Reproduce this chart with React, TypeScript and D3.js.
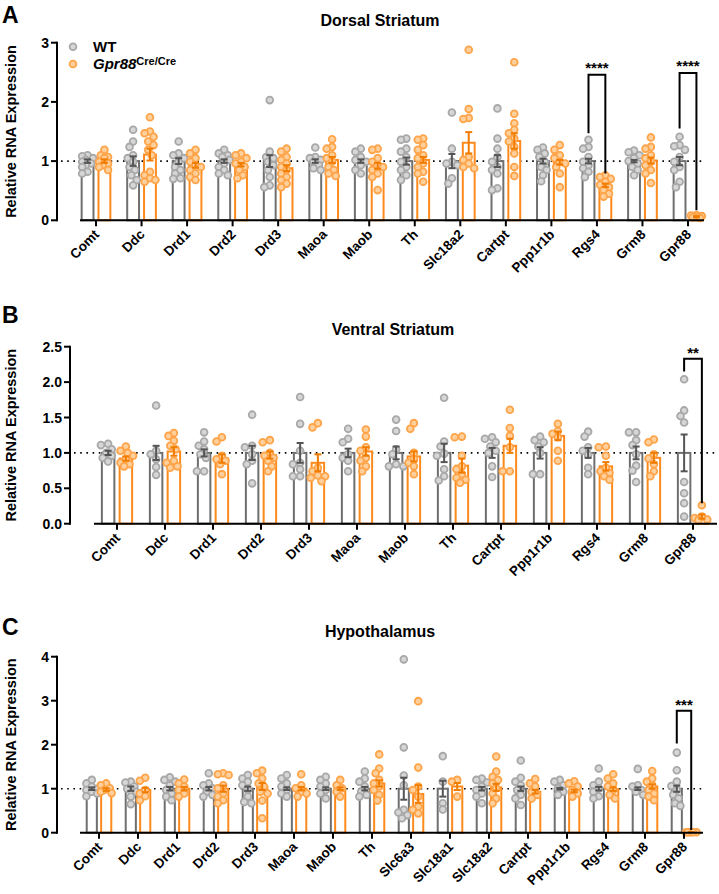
import React from "react";
import * as d3 from "d3";

const FONT = "Arial, 'Liberation Sans', Helvetica, sans-serif";

// ---------------- Panel A: Dorsal Striatum ----------------
const genesA = ["Comt", "Ddc", "Drd1", "Drd2", "Drd3", "Maoa", "Maob", "Th", "Slc18a2", "Cartpt", "Ppp1r1b", "Rgs4", "Grm8", "Gpr88"];
const wtMeanA = [1, 1, 1, 1, 1, 1, 1, 1, 1, 1, 1, 1, 1, 1];
const wtSemA = [0.03, 0.08, 0.05, 0.03, 0.1, 0.03, 0.03, 0.06, 0.12, 0.1, 0.04, 0.04, 0.02, 0.07];
const koMeanA = [1.0, 1.11, 0.93, 0.94, 0.88, 1.02, 0.92, 1.02, 1.31, 1.34, 0.98, 0.59, 1.01, 0.06];
const koSemA = [0.03, 0.1, 0.04, 0.03, 0.05, 0.05, 0.05, 0.05, 0.18, 0.13, 0.04, 0.03, 0.05, 0.01];
const wtPtsA = [
  [1.10, 1.08, 1.05, 1.02, 0.99, 0.96, 0.93, 0.90, 0.82, 0.79],
  [1.53, 1.33, 1.24, 1.10, 1.05, 0.99, 0.90, 0.85, 0.76, 0.68, 0.59],
  [1.33, 1.13, 1.10, 1.05, 0.99, 0.90, 0.85, 0.79, 0.71, 0.70],
  [1.19, 1.13, 1.10, 1.07, 1.02, 0.96, 0.90, 0.85, 0.79, 0.76],
  [2.03, 1.16, 1.07, 1.05, 0.99, 0.93, 0.85, 0.73, 0.59, 0.56],
  [1.23, 1.07, 1.05, 1.02, 0.99, 0.93, 0.88, 0.85],
  [1.21, 1.16, 1.07, 1.02, 0.99, 0.93, 0.85, 0.79],
  [1.38, 1.36, 1.21, 1.16, 1.07, 0.99, 0.90, 0.85, 0.76, 0.68],
  [1.82, 1.21, 0.99, 0.96, 0.93, 0.71, 0.62],
  [1.89, 1.38, 1.21, 1.07, 0.99, 0.90, 0.85, 0.79, 0.54, 0.51],
  [1.23, 1.19, 1.13, 1.07, 0.99, 0.90, 0.85, 0.76, 0.66],
  [1.36, 1.24, 1.21, 1.07, 0.99, 0.93, 0.88, 0.82, 0.73],
  [1.18, 1.15, 1.10, 1.05, 1.0, 0.96, 0.90, 0.85, 0.76],
  [1.41, 1.27, 1.25, 1.19, 1.07, 0.99, 0.90, 0.85, 0.65, 0.56],
];
const koPtsA = [
  [1.19, 1.10, 1.07, 1.05, 0.99, 0.96, 0.93, 0.90, 0.85],
  [1.74, 1.50, 1.47, 1.41, 1.33, 1.27, 1.19, 1.10, 0.82, 0.76, 0.71, 0.68, 0.65],
  [1.19, 1.13, 1.05, 0.99, 0.93, 0.90, 0.85, 0.79, 0.73, 0.68],
  [1.13, 1.10, 1.05, 0.99, 0.96, 0.90, 0.85, 0.76, 0.71],
  [1.21, 1.16, 1.07, 1.02, 0.96, 0.90, 0.85, 0.79, 0.73, 0.68, 0.62, 0.56],
  [1.37, 1.24, 1.21, 1.10, 1.05, 0.99, 0.90, 0.85, 0.79, 0.75],
  [1.21, 1.19, 1.05, 0.99, 0.93, 0.90, 0.85, 0.79, 0.73, 0.51],
  [1.38, 1.36, 1.27, 1.19, 1.10, 1.05, 0.96, 0.90, 0.82, 0.79, 0.65],
  [2.88, 1.88, 1.73, 1.71, 1.07, 1.02, 0.96, 0.90, 0.88],
  [2.67, 1.80, 1.64, 1.53, 1.47, 1.38, 1.33, 1.24, 1.13, 0.90, 0.75],
  [1.27, 1.19, 1.10, 1.05, 0.99, 0.96, 0.90, 0.79, 0.56],
  [0.76, 0.73, 0.70, 0.65, 0.60, 0.56, 0.51, 0.45, 0.40],
  [1.40, 1.24, 1.21, 1.10, 1.05, 0.99, 0.93, 0.85, 0.79, 0.63],
  [0.09, 0.08, 0.07, 0.06, 0.05, 0.05, 0.04],
];
const ticksA = [0, 1, 2, 3];
const bracketsA = [
  { gene: "Rgs4", left: 1.47, top: 2.46, right: 0.79, label: "****", labelAt: 2.63 },
  { gene: "Gpr88", left: 1.55, top: 2.49, right: 0.17, label: "****", labelAt: 2.66 },
];

// ---------------- Panel B: Ventral Striatum ----------------
const genesB = ["Comt", "Ddc", "Drd1", "Drd2", "Drd3", "Maoa", "Maob", "Th", "Cartpt", "Ppp1r1b", "Rgs4", "Grm8", "Gpr88"];
const wtMeanB = [1, 1, 1, 1, 1, 1, 1, 1, 1, 1, 1, 1, 1];
const wtSemB = [0.03, 0.1, 0.05, 0.1, 0.14, 0.06, 0.09, 0.13, 0.07, 0.08, 0.07, 0.09, 0.26];
const koMeanB = [0.92, 1.02, 0.92, 0.97, 0.86, 1.02, 0.95, 0.82, 1.1, 1.24, 0.81, 0.93, 0.1];
const koSemB = [0.03, 0.06, 0.06, 0.05, 0.12, 0.06, 0.07, 0.1, 0.1, 0.06, 0.06, 0.07, 0.03];
const wtPtsB = [
  [1.13, 1.11, 1.05, 1.0, 0.96, 0.93, 0.88],
  [1.67, 1.03, 0.98, 0.91, 0.80, 0.69],
  [1.29, 1.16, 1.10, 1.05, 0.98, 0.93, 0.74, 0.74],
  [1.54, 1.10, 1.08, 0.98, 0.89, 0.84, 0.57],
  [1.79, 1.41, 1.03, 0.86, 0.84, 0.77, 0.67, 0.67],
  [1.34, 1.20, 1.15, 0.98, 0.93, 0.89, 0.74],
  [1.47, 1.31, 1.05, 0.98, 0.84, 0.81, 0.81],
  [1.78, 1.16, 1.09, 0.99, 0.96, 0.77, 0.67, 0.61],
  [1.22, 1.20, 1.15, 1.09, 1.03, 1.0, 0.81, 0.66],
  [1.23, 1.18, 1.15, 1.09, 1.0, 0.70, 0.70],
  [1.30, 1.23, 1.08, 1.03, 0.97, 0.79, 0.70],
  [1.29, 1.29, 1.18, 1.11, 0.98, 0.82, 0.75, 0.59],
  [2.04, 1.60, 1.52, 1.43, 0.59, 0.43, 0.29, 0.10],
];
const koPtsB = [
  [1.09, 1.03, 1.0, 0.96, 0.91, 0.86, 0.84, 0.81],
  [1.28, 1.24, 1.17, 1.10, 1.05, 0.89, 0.86, 0.81, 0.79],
  [1.22, 1.16, 0.96, 0.91, 0.89, 0.84, 0.70],
  [1.18, 1.15, 1.0, 0.96, 0.93, 0.89, 0.81, 0.74],
  [1.42, 1.36, 0.79, 0.74, 0.68, 0.67, 0.65, 0.60],
  [1.33, 1.23, 1.08, 1.03, 0.93, 0.89, 0.81, 0.74],
  [1.42, 1.34, 1.0, 0.91, 0.86, 0.81, 0.70],
  [1.23, 1.22, 0.96, 0.81, 0.77, 0.70, 0.65, 0.62, 0.58],
  [1.61, 1.35, 1.24, 1.08, 0.74, 0.74],
  [1.41, 1.31, 1.27, 1.22, 1.03, 0.89],
  [1.09, 1.08, 0.96, 0.79, 0.74, 0.72, 0.67, 0.62],
  [1.19, 1.15, 0.98, 0.92, 0.84, 0.74, 0.67],
  [0.26, 0.10, 0.08, 0.06, 0.05],
];
const ticksB = [0, 0.5, 1.0, 1.5, 2.0, 2.5];
const bracketsB = [{ gene: "Gpr88", left: 2.15, top: 2.33, right: 0.29, label: "**", labelAt: 2.46 }];

// ---------------- Panel C: Hypothalamus ----------------
const genesC = ["Comt", "Ddc", "Drd1", "Drd2", "Drd3", "Maoa", "Maob", "Th", "Slc6a3", "Slc18a1", "Slc18a2", "Cartpt", "Ppp1r1b", "Rgs4", "Grm8", "Gpr88"];
const wtMeanC = [1, 1, 1, 1, 1, 1, 1, 1, 1, 1, 1, 1, 1, 1, 1, 1];
const wtSemC = [0.03, 0.05, 0.04, 0.04, 0.05, 0.03, 0.03, 0.04, 0.25, 0.18, 0.04, 0.05, 0.02, 0.04, 0.03, 0.07];
const koMeanC = [0.98, 0.97, 1.0, 1.0, 1.05, 1.0, 1.0, 1.12, 0.88, 1.05, 1.03, 0.93, 0.95, 0.99, 1.05, 0.01];
const koSemC = [0.03, 0.05, 0.04, 0.07, 0.08, 0.04, 0.03, 0.07, 0.2, 0.08, 0.08, 0.04, 0.03, 0.04, 0.05, 0.005];
const wtPtsC = [
  [1.20, 1.12, 1.05, 1.0, 0.97, 0.93, 0.89, 0.83],
  [1.16, 1.14, 1.05, 1.0, 0.93, 0.82, 0.65],
  [1.26, 1.20, 1.16, 1.08, 0.97, 0.89, 0.82, 0.74],
  [1.35, 1.12, 1.08, 1.01, 0.93, 0.86, 0.82],
  [1.31, 1.23, 1.16, 1.08, 0.97, 0.82, 0.70, 0.67],
  [1.31, 1.23, 1.12, 1.05, 0.97, 0.89, 0.82],
  [1.27, 1.20, 1.12, 1.05, 0.97, 0.89, 0.78],
  [1.39, 1.23, 1.16, 1.05, 0.93, 0.86, 0.82],
  [3.94, 1.94, 1.30, 1.08, 0.52, 0.46, 0.40, 0.33],
  [1.74, 1.16, 0.67, 0.53],
  [1.23, 1.20, 1.14, 1.05, 0.97, 0.89, 0.82, 0.67],
  [1.64, 1.25, 1.16, 1.08, 0.97, 0.86, 0.78, 0.63],
  [1.20, 1.16, 1.08, 1.01, 0.93, 0.86],
  [1.46, 1.16, 1.08, 1.01, 0.93, 0.83, 0.78],
  [1.45, 1.08, 1.05, 0.97, 0.93, 0.86],
  [1.82, 1.42, 1.16, 1.06, 0.97, 0.86, 0.78, 0.67, 0.61],
];
const koPtsC = [
  [1.12, 1.08, 1.01, 0.97, 0.93, 0.90],
  [1.25, 1.18, 0.97, 0.89, 0.83, 0.74],
  [1.21, 1.12, 1.05, 0.97, 0.89, 0.82],
  [1.35, 1.33, 1.31, 1.08, 1.01, 0.89, 0.82, 0.74, 0.67],
  [1.41, 1.35, 1.23, 1.12, 1.05, 0.93, 0.89, 0.73, 0.33],
  [1.33, 1.08, 1.01, 0.93, 0.89, 0.82],
  [1.20, 1.08, 1.01, 0.93, 0.82],
  [1.78, 1.46, 1.35, 1.20, 1.12, 1.05, 0.97, 0.86, 0.73],
  [2.99, 1.48, 1.05, 0.97, 0.82, 0.59, 0.52, 0.44],
  [1.20, 1.16, 0.82],
  [1.73, 1.39, 1.27, 1.20, 1.12, 1.01, 0.89, 0.78, 0.67],
  [1.22, 1.12, 1.05, 0.93, 0.86, 0.78],
  [1.17, 1.12, 1.05, 0.97, 0.89, 0.82],
  [1.33, 1.23, 1.12, 1.05, 0.97, 0.86, 0.78],
  [1.40, 1.23, 1.16, 1.08, 0.97, 0.89, 0.82, 0.74],
  [0.01, 0.01, 0.01, 0.01, 0.01, 0.01],
];
const ticksC = [0, 1, 2, 3, 4];
const bracketsC = [{ gene: "Gpr88", left: 2.03, top: 2.77, right: 0.06, label: "***", labelAt: 2.99 }];

// ---------------- styles ----------------
const WT_BAR = "#6f6f6f";
const WT_ERR = "#555555";
const WT_PT_STROKE = "#a8a8a8";
const WT_PT_FILL = "#d6d6d6";
const KO_BAR = "#ff8a1c";
const KO_ERR = "#f07c00";
const KO_PT_STROKE = "#ffa449";
const KO_PT_FILL = "#ffcf9c";

type Bracket = { gene: string; left: number; top: number; right: number; label: string; labelAt: number };

type PanelCfg = {
  letter: string;
  letterY: number;
  title: string;
  titleX: number;
  titleY: number;
  genes: string[];
  wtMean: number[];
  wtSem: number[];
  koMean: number[];
  koSem: number[];
  wtPts: number[][];
  koPts: number[][];
  yTicks: number[];
  tickFmt: (v: number) => string;
  yAxisX: number;
  xStart: number;
  xEnd: number;
  firstTick: number;
  lastTick: number;
  yBottom: number;
  yTop: number;
  brackets: Bracket[];
  legend?: boolean;
};

function swarm(vals: number[], cx: number, y: (v: number) => number, r: number, maxOff: number) {
  const items = vals.map((v) => ({ py: y(v) })).sort((a, b) => a.py - b.py);
  const placed: { x: number; y: number }[] = [];
  const minD = r * 1.75;
  const cands: number[] = [0];
  for (let k = 1; k <= 8; k++) cands.push(-k * 1.8, k * 1.8);
  for (const p of items) {
    let chosen: number | null = null;
    let bestScore = -1;
    let bestC = 0;
    for (const c of cands) {
      if (Math.abs(c) > maxOff) continue;
      const md = placed.reduce((m, q) => Math.min(m, Math.hypot(q.x - (cx + c), q.y - p.py)), Infinity);
      if (md >= minD) {
        chosen = c;
        break;
      }
      if (md > bestScore) {
        bestScore = md;
        bestC = c;
      }
    }
    placed.push({ x: cx + (chosen === null ? bestC : chosen), y: p.py });
  }
  return placed;
}

function Panel({ cfg }: { cfg: PanelCfg }) {
  const x = d3.scalePoint<string>().domain(cfg.genes).range([cfg.firstTick, cfg.lastTick]);
  const step = x.step();
  const off = step * 0.185;
  const bw = step * 0.26;
  const yMax = cfg.yTicks[cfg.yTicks.length - 1];
  const y = d3.scaleLinear().domain([0, yMax]).range([cfg.yBottom, cfg.yTop]);
  const r = 3.4;
  const cap = 3.5;
  const ptsOff = bw * 0.6;

  const groups = cfg.genes.map((g, i) => {
    const cx = x(g) as number;
    return {
      g,
      wt: { cx: cx - off, mean: cfg.wtMean[i], sem: cfg.wtSem[i], pts: swarm(cfg.wtPts[i], cx - off, y, r, ptsOff) },
      ko: { cx: cx + off, mean: cfg.koMean[i], sem: cfg.koSem[i], pts: swarm(cfg.koPts[i], cx + off, y, r, ptsOff) },
    };
  });

  const yMid = (cfg.yBottom + cfg.yTop) / 2;

  const renderBar = (d: any, stroke: string) => (
    <rect
      x={d.cx - bw / 2}
      y={y(d.mean)}
      width={bw}
      height={Math.max(0, cfg.yBottom - y(d.mean))}
      fill="white"
      stroke={stroke}
      strokeWidth={2}
    />
  );
  const renderErr = (d: any, stroke: string) => {
    const y1 = y(d.mean + d.sem);
    const y2 = y(Math.max(0, d.mean - d.sem));
    return (
      <g stroke={stroke} strokeWidth={2}>
        <line x1={d.cx} x2={d.cx} y1={y1} y2={y2} />
        <line x1={d.cx - cap} x2={d.cx + cap} y1={y1} y2={y1} />
        <line x1={d.cx - cap} x2={d.cx + cap} y1={y2} y2={y2} />
      </g>
    );
  };

  return (
    <g>
      <text x={2} y={cfg.letterY} fontFamily={FONT} fontWeight="bold" fontSize={23} fill="#000">
        {cfg.letter}
      </text>
      <text x={cfg.titleX} y={cfg.titleY} fontFamily={FONT} fontWeight="bold" fontSize={16} textAnchor="middle" fill="#000">
        {cfg.title}
      </text>
      <text
        transform={`translate(16,${yMid}) rotate(-90)`}
        fontFamily={FONT}
        fontWeight="bold"
        fontSize={14.5}
        textAnchor="middle"
        fill="#000"
      >
        Relative RNA Expression
      </text>

      {/* dotted reference line */}
      <line
        x1={cfg.yAxisX + 4}
        x2={cfg.xEnd}
        y1={y(1)}
        y2={y(1)}
        stroke="#000"
        strokeWidth={1.6}
        strokeDasharray="1.6,4.6"
      />

      {groups.map((gr) => (
        <g key={gr.g}>
          {renderBar(gr.wt, WT_BAR)}
          {renderBar(gr.ko, KO_BAR)}
          {gr.wt.pts.map((p, j) => (
            <circle key={"w" + j} cx={p.x} cy={p.y} r={r} fill={WT_PT_FILL} stroke={WT_PT_STROKE} strokeWidth={1.8} />
          ))}
          {gr.ko.pts.map((p, j) => (
            <circle key={"k" + j} cx={p.x} cy={p.y} r={r} fill={KO_PT_FILL} stroke={KO_PT_STROKE} strokeWidth={1.8} />
          ))}
          {renderErr(gr.wt, WT_ERR)}
          {renderErr(gr.ko, KO_ERR)}
        </g>
      ))}

      {/* y axis */}
      <line x1={cfg.yAxisX} x2={cfg.yAxisX} y1={cfg.yBottom + 1} y2={cfg.yTop - 1} stroke="#000" strokeWidth={2} />
      {cfg.yTicks.map((t) => (
        <g key={t}>
          <line x1={cfg.yAxisX - 6} x2={cfg.yAxisX} y1={y(t)} y2={y(t)} stroke="#000" strokeWidth={2} />
          <text
            x={cfg.yAxisX - 8}
            y={y(t)}
            dy="0.36em"
            textAnchor="end"
            fontFamily={FONT}
            fontWeight="bold"
            fontSize={14}
            fill="#000"
          >
            {cfg.tickFmt(t)}
          </text>
        </g>
      ))}

      {/* x axis */}
      <line x1={cfg.xStart} x2={cfg.xEnd} y1={cfg.yBottom} y2={cfg.yBottom} stroke="#000" strokeWidth={2} />
      {cfg.genes.map((g) => {
        const gx = x(g) as number;
        return (
          <g key={g}>
            <line x1={gx} x2={gx} y1={cfg.yBottom} y2={cfg.yBottom + 6} stroke="#000" strokeWidth={2} />
            <text
              transform={`translate(${gx + 4},${cfg.yBottom + 15}) rotate(-45)`}
              textAnchor="end"
              fontFamily={FONT}
              fontWeight="bold"
              fontSize={13.5}
              fill="#000"
            >
              {g}
            </text>
          </g>
        );
      })}

      {/* significance brackets */}
      {cfg.brackets.map((b) => {
        const gx = x(b.gene) as number;
        const lx = gx - off;
        const rx = gx + off;
        return (
          <g key={b.gene}>
            <path
              d={`M${lx},${y(b.left)} V${y(b.top)} H${rx} V${y(b.right)}`}
              fill="none"
              stroke="#000"
              strokeWidth={2}
            />
            <text
              x={(lx + rx) / 2}
              y={y(b.labelAt) + 8.5}
              textAnchor="middle"
              fontFamily={FONT}
              fontWeight="bold"
              fontSize={15}
              fill="#000"
            >
              {b.label}
            </text>
          </g>
        );
      })}

      {cfg.legend && (
        <g fontFamily={FONT} fontWeight="bold" fill="#000">
          <circle cx={73} cy={46.7} r={r} fill={WT_PT_FILL} stroke={WT_PT_STROKE} strokeWidth={1.8} />
          <text x={93} y={52.3} fontSize={15}>
            WT
          </text>
          <circle cx={73} cy={64} r={r} fill={KO_PT_FILL} stroke={KO_PT_STROKE} strokeWidth={1.8} />
          <text x={93} y={69} fontSize={15}>
            <tspan fontStyle="italic">Gpr88</tspan>
            <tspan fontSize={11} dy={-4.5}>
              Cre/Cre
            </tspan>
          </text>
        </g>
      )}
    </g>
  );
}

const fmtInt = (v: number) => d3.format("d")(v);
const fmt1 = (v: number) => d3.format(".1f")(v);

const panels: PanelCfg[] = [
  {
    letter: "A",
    letterY: 23,
    title: "Dorsal Striatum",
    titleX: 380,
    titleY: 26,
    genes: genesA,
    wtMean: wtMeanA,
    wtSem: wtSemA,
    koMean: koMeanA,
    koSem: koSemA,
    wtPts: wtPtsA,
    koPts: koPtsA,
    yTicks: ticksA,
    tickFmt: fmtInt,
    yAxisX: 57,
    xStart: 80,
    xEnd: 704,
    firstTick: 96,
    lastTick: 688,
    yBottom: 220.3,
    yTop: 42.7,
    brackets: bracketsA,
    legend: true,
  },
  {
    letter: "B",
    letterY: 323,
    title: "Ventral Striatum",
    titleX: 393,
    titleY: 335,
    genes: genesB,
    wtMean: wtMeanB,
    wtSem: wtSemB,
    koMean: koMeanB,
    koSem: koSemB,
    wtPts: wtPtsB,
    koPts: koPtsB,
    yTicks: ticksB,
    tickFmt: fmt1,
    yAxisX: 70,
    xStart: 94,
    xEnd: 717,
    firstTick: 117,
    lastTick: 693,
    yBottom: 523.7,
    yTop: 346.7,
    brackets: bracketsB,
  },
  {
    letter: "C",
    letterY: 635,
    title: "Hypothalamus",
    titleX: 380,
    titleY: 637,
    genes: genesC,
    wtMean: wtMeanC,
    wtSem: wtSemC,
    koMean: koMeanC,
    koSem: koSemC,
    wtPts: wtPtsC,
    koPts: koPtsC,
    yTicks: ticksC,
    tickFmt: fmtInt,
    yAxisX: 57,
    xStart: 80,
    xEnd: 703,
    firstTick: 99,
    lastTick: 684,
    yBottom: 832.7,
    yTop: 656.7,
    brackets: bracketsC,
  },
];

export default function App() {
  return (
    <svg
      width={719}
      height={894}
      viewBox="0 0 719 894"
      style={{ position: "absolute", left: 0, top: 0, background: "white" }}
    >
      <rect x={0} y={0} width={719} height={894} fill="white" />
      {panels.map((p) => (
        <Panel key={p.letter} cfg={p} />
      ))}
    </svg>
  );
}
